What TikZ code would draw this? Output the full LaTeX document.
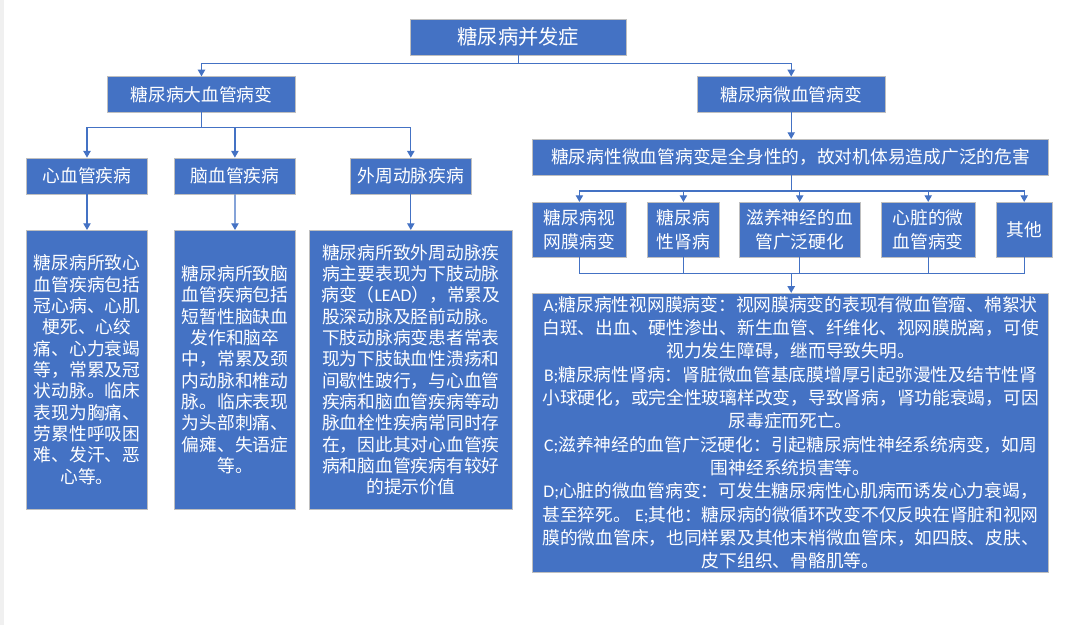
\documentclass[tikz,border=0pt]{standalone}
\usepackage{fontspec}
\setmainfont{Noto Sans CJK SC}
\newfontfamily\latin{Carlito}
\usetikzlibrary{arrows.meta}
\definecolor{officeBlue}{RGB}{68,114,196}
\definecolor{boxEdge}{RGB}{191,191,191}
\definecolor{sideGray}{RGB}{240,240,240}

\begin{document}
\begin{tikzpicture}[
    x=0.75pt, y=-0.75pt,
    box/.style={rectangle, draw=boxEdge, fill=officeBlue, line width=0.6pt,
                text=white, align=center, inner sep=0pt,
                font=\fontsize{13.3}{17.5}\selectfont},
    sz/.style 2 args={minimum width=#1*0.75pt, minimum height=#2*0.75pt},
    txt/.style={font=\fontsize{13.3}{16}\selectfont},
    link/.style={draw=officeBlue, line width=0.9pt,
                 -{Triangle[width=5.5pt,length=5pt]}},
    bus/.style={draw=officeBlue, line width=0.9pt},
  ]
    \fill[white] (0,0) rectangle (1070,625);
    \fill[sideGray] (0,0) rectangle (3.5,625);
    \useasboundingbox (0,0) rectangle (1070,625);

    \node[box, sz={215.7}{35.7}, font=\fontsize{15.2}{18}\selectfont] (ROOT) at (518.4,37.2) {糖尿病并发症};
    \node[box, sz={187.3}{35.3}] (MAC) at (201.5,94.4) {糖尿病大血管病变};
    \node[box, sz={187.5}{35.3}] (MIC) at (791.2,94.4) {糖尿病微血管病变};

    \node[box, sz={121}{36}] (CVD) at (87,176) {心血管疾病};
    \node[box, sz={120.5}{36}] (CBV) at (234.9,176) {脑血管疾病};
    \node[box, sz={121}{36}] (PAD) at (410.8,176) {外周动脉疾病};

    \node[box, txt, sz={120.6}{278.7}] (CVDTXT) at (87,369.7)
      {糖尿病所致心\\血管疾病包括\\冠心病、心肌\\梗死、心绞\\痛、心力衰竭\\等，常累及冠\\状动脉。临床\\表现为胸痛、\\劳累性呼吸困\\难、发汗、恶\\心等。};
    \node[box, txt, sz={120.6}{278.7}] (CBVTXT) at (235,369.7)
      {糖尿病所致脑\\血管疾病包括\\短暂性脑缺血\\发作和脑卒\\中，常累及颈\\内动脉和椎动\\脉。临床表现\\为头部刺痛、\\偏瘫、失语症\\等。};
    \node[box, txt, sz={203}{278.7}] (PADTXT) at (410.8,369.7)
      {糖尿病所致外周动脉疾\\病主要表现为下肢动脉\\病变（{\latin LEAD}），常累及\\股深动脉及胫前动脉。\\下肢动脉病变患者常表\\现为下肢缺血性溃疡和\\间歇性跛行，与心血管\\疾病和脑血管疾病等动\\脉血栓性疾病常同时存\\在，因此其对心血管疾\\病和脑血管疾病有较好\\的提示价值};

    \node[box, sz={516}{35.7}] (WIDE) at (790.6,157.2)
      {糖尿病性微血管病变是全身性的，故对机体易造成广泛的危害};

    \node[box, sz={93.6}{54.7}] (RET) at (579.4,229.7) {糖尿病视\\网膜病变};
    \node[box, sz={71.5}{54.7}] (NEP) at (683.4,229.7) {糖尿病\\性肾病};
    \node[box, sz={120.6}{54.7}] (NRV) at (799.7,229.7) {滋养神经的血\\管广泛硬化};
    \node[box, sz={93.6}{54.7}] (HRT) at (928.2,229.7) {心脏的微\\血管病变};
    \node[box, sz={55.7}{54.7}] (OTH) at (1024.2,229.7) {其他};

    \node[box, sz={516}{279}] (BIG) at (790.6,432.8)
      {{\latin A;}糖尿病性视网膜病变：视网膜病变的表现有微血管瘤、棉絮状\\
       白斑、出血、硬性渗出、新生血管、纤维化、视网膜脱离，可使\\
       视力发生障碍，继而导致失明。\\
       {\latin B;}糖尿病性肾病：肾脏微血管基底膜增厚引起弥漫性及结节性肾\\
       小球硬化，或完全性玻璃样改变，导致肾病，肾功能衰竭，可因\\
       尿毒症而死亡。\\
       {\latin C;}滋养神经的血管广泛硬化：引起糖尿病性神经系统病变，如周\\
       围神经系统损害等。\\
       {\latin D;}心脏的微血管病变：可发生糖尿病性心肌病而诱发心力衰竭，\\
       甚至猝死。 {\latin E;}其他：糖尿病的微循环改变不仅反映在肾脏和视网\\
       膜的微血管床，也同样累及其他末梢微血管床，如四肢、皮肤、\\
       皮下组织、骨骼肌等。};

    \coordinate (J0) at (ROOT.south |- 0,63.3);
    \draw[link] (ROOT.south) -- (J0) -| (MAC.north);
    \draw[link] (J0) -| (MIC.north);

    \coordinate (J1) at (MAC.south |- 0,127.7);
    \draw[link] (MAC.south) -- (J1) -| (CVD.north);
    \draw[link] (J1) -| (CBV.north);
    \draw[link] (J1) -| (PAD.north);
    \draw[link] (CVD.south) -- (CVDTXT.north);
    \draw[link] (CBV.south) -- (CBVTXT.north);
    \draw[link] (PAD.south) -- (PADTXT.north);

    \draw[link] (MIC.south) -- (MIC.south |- WIDE.north);
    \coordinate (J2) at (MIC.south |- 0,191);
    \draw[bus] (MIC.south |- WIDE.south) -- (J2);
    \draw[link] (J2) -| (RET.north);
    \draw[link] (J2) -| (NEP.north);
    \draw[link] (J2) -| (NRV.north);
    \draw[link] (J2) -| (HRT.north);
    \draw[link] (J2) -| (OTH.north);

    \coordinate (J3) at (MIC.south |- 0,273.3);
    \draw[bus] (RET.south) |- (J3);
    \draw[bus] (NEP.south) |- (J3);
    \draw[bus] (NRV.south) |- (J3);
    \draw[bus] (HRT.south) |- (J3);
    \draw[bus] (OTH.south) |- (J3);
    \draw[link] (J3) -- (J3 |- BIG.north);
  \end{tikzpicture}
\end{document}
